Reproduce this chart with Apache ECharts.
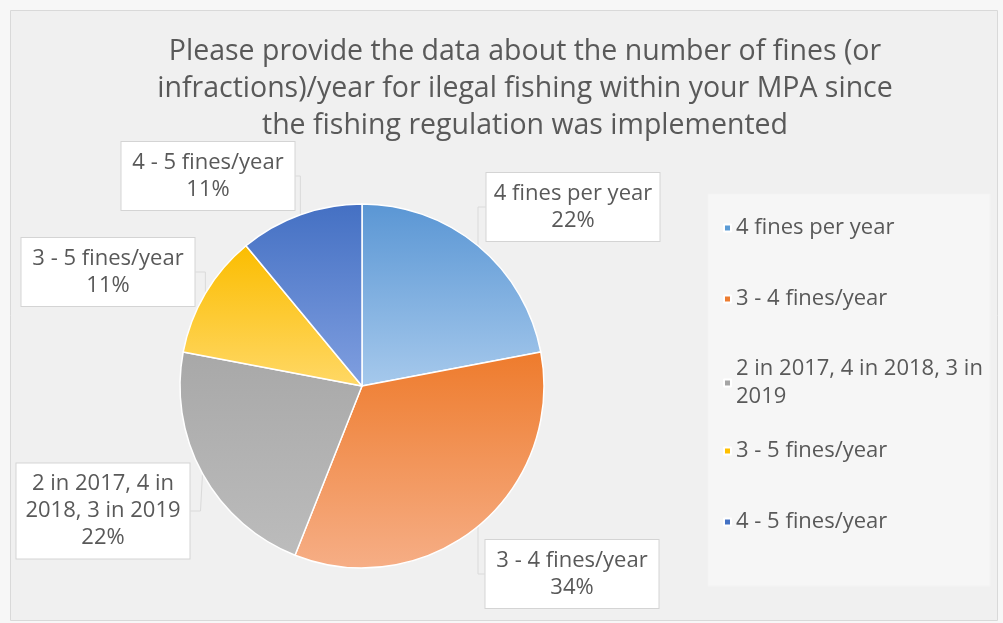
<!DOCTYPE html>
<html>
<head>
<meta charset="utf-8">
<style>
  html, body { margin: 0; padding: 0; background: #f7f7f7; }
  #chart { width: 1003px; height: 623px; }
</style>
<script src="https://cdn.jsdelivr.net/npm/echarts@6/dist/echarts.min.js"></script>
</head>
<body>
<div id="chart"></div>
<script>
const titleText = 'Please provide the data about the number of fines (or\ninfractions)/year for ilegal fishing within your MPA since\nthe fishing regulation was implemented';
const categories = ['4 fines per year', '3 - 4 fines/year', '2 in 2017, 4 in 2018, 3 in 2019', '3 - 5 fines/year', '4 - 5 fines/year'];
const values = [22, 34, 22, 11, 11];
const labelTexts = ['4 fines per year', '3 - 4 fines/year', '2 in 2017, 4 in\n2018, 3 in 2019', '3 - 5 fines/year', '4 - 5 fines/year'];
const legendTexts = ['4 fines per year', '3 - 4 fines/year', '2 in 2017, 4 in 2018, 3 in\n2019', '3 - 5 fines/year', '4 - 5 fines/year'];
const gradients = [
  ['#5a96d4', '#a6c9ec'],
  ['#ee7b2c', '#f6ae86'],
  ['#a8a8a8', '#bcbcbc'],
  ['#fbbd00', '#ffd866'],
  ['#4470c3', '#809fe0']
];
const legendColors = ['#5b9bd5', '#ed7d31', '#a5a5a5', '#ffc000', '#4472c4'];
const labelPos = [[573, 207], [572, 574], [103, 511], [108, 272], [208, 176]];
const legendTops = [209, 280, 350, 432, 503];

const chart = echarts.init(document.getElementById('chart'), null, { renderer: 'canvas' });
const font = '"Open Sans", Lato, sans-serif';

const data = categories.map((name, i) => ({
  name: name,
  value: values[i],
  itemStyle: {
    color: {
      type: 'linear', x: 0, y: 0, x2: 0, y2: 1,
      colorStops: [{ offset: 0, color: gradients[i][0] }, { offset: 1, color: gradients[i][1] }]
    }
  }
}));

const legends = categories.map((name, i) => ({
  orient: 'vertical',
  left: 718,
  top: legendTops[i],
  data: [{ name: name, itemStyle: { color: legendColors[i] } }],
  icon: 'rect',
  itemWidth: 7,
  itemHeight: 7,
  itemGap: 6,
  selectedMode: false,
  formatter: () => legendTexts[i],
  textStyle: { fontFamily: font, fontSize: 22, color: '#595959', lineHeight: 28 }
}));

chart.setOption({
  backgroundColor: '#f7f7f7',
  animation: false,
  graphic: [
    { type: 'rect', shape: { x: 10.5, y: 10.5, width: 987, height: 610 }, style: { fill: '#f0f0f0', stroke: '#d9d9d9', lineWidth: 1 }, z: -10 },
    { type: 'rect', shape: { x: 708, y: 194, width: 282, height: 392 }, style: { fill: '#f6f6f6', stroke: '#f3f3f3' }, z: -9 }
  ],
  title: {
    text: titleText,
    left: 520,
    textAlign: 'center',
    top: 28,
    textStyle: { fontFamily: font, fontSize: 28.5, fontWeight: 'normal', color: '#595959', lineHeight: 37 }
  },
  legend: legends,
  series: [{
    type: 'pie',
    center: [362, 386],
    radius: 182,
    startAngle: 90,
    clockwise: true,
    data: data,
    itemStyle: { borderColor: '#ffffff', borderWidth: 1.5 },
    label: {
      show: true,
      formatter: (p) => labelTexts[p.dataIndex] + '\n' + p.value + '%',
      fontFamily: font,
      fontSize: 22,
      color: '#595959',
      lineHeight: 27,
      align: 'center',
      backgroundColor: '#ffffff',
      borderColor: '#d4d4d4',
      borderWidth: 1,
      padding: [7, 4],
      width: 165,
      overflow: 'none'
    },
    labelLine: { show: true, lineStyle: { color: '#dadada', width: 1 }, length: 10, length2: 10 },
    labelLayout: (params) => {
      const p = labelPos[params.dataIndex];
      return { x: p[0], y: p[1], align: 'center', verticalAlign: 'middle' };
    },
    emphasis: { disabled: true }
  }]
});
</script>
</body>
</html>
